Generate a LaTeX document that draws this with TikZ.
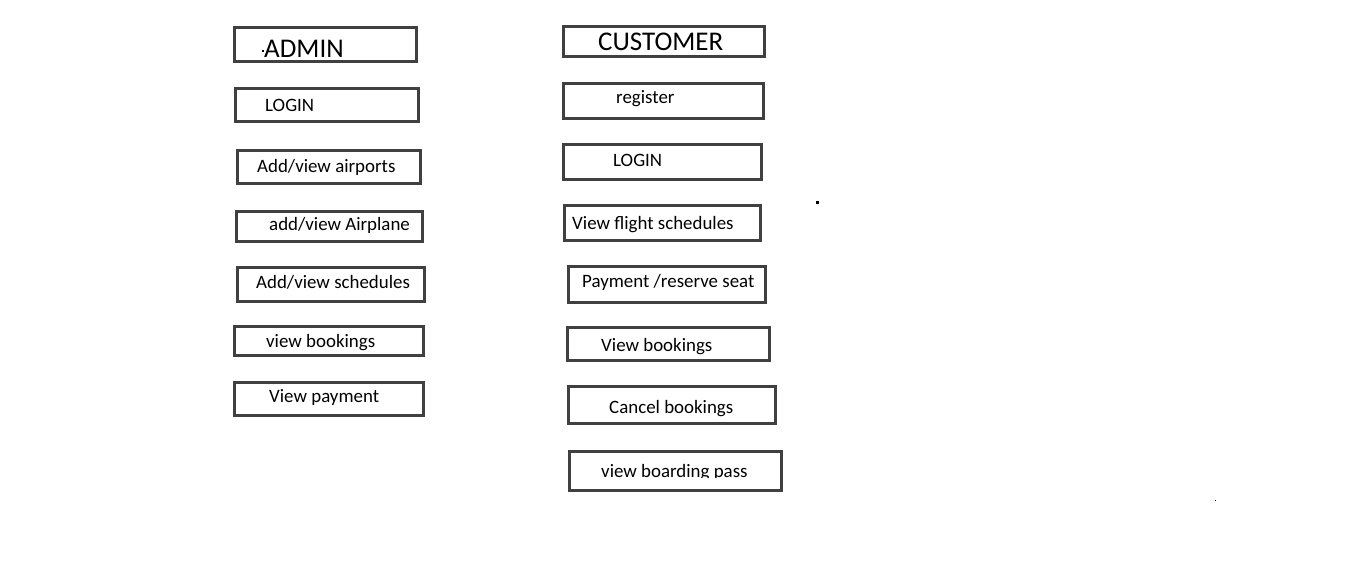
\documentclass[tikz,border=0pt]{standalone}
\usepackage{fontspec}
\setmainfont{Carlito}
\definecolor{boxline}{HTML}{404040}
\newcommand{\lbl}{\fontsize{18.9}{20}\selectfont}
\newcommand{\head}{\fontsize{27}{28}\selectfont}

\begin{document}
\begin{tikzpicture}
                \tikzset{x=1pt, y=-1pt}
                \tikzstyle{box}=[rectangle, draw=boxline, line width=3pt, inner sep=0pt]
                \tikzstyle{txt}=[anchor=base west, inner sep=0pt, font=\lbl]
                \tikzstyle{dot}=[fill=black, inner sep=0pt]

                \useasboundingbox (0,0) rectangle (1360,569);

                % admin side
                \draw (325.5, 44.5) node[box, minimum width=182, minimum height=34] (a0) {};
                \draw (327.0,105.0) node[box, minimum width=183, minimum height=33] (a1) {};
                \draw (329.0,167.0) node[box, minimum width=183, minimum height=33] (a2) {};
                \draw (329.5,226.5) node[box, minimum width=186, minimum height=30] (a3) {};
                \draw (331.0,284.5) node[box, minimum width=187, minimum height=34] (a4) {};
                \draw (329.0,341.0) node[box, minimum width=189, minimum height=29] (a5) {};
                \draw (329.0,399.0) node[box, minimum width=189, minimum height=33] (a6) {};

                \draw (264, 58)     node[txt, font=\head] (la0) {ADMIN};
                \draw (265,112)     node[txt]   (la1)   {LOGIN};
                \draw (257,173)     node[txt]   (la2)   {Add/view airports};
                \draw (269,231)     node[txt]   (la3)   {add/view Airplane};
                \draw (256,289)     node[txt]   (la4)   {Add/view schedules};
                \draw (266,348)     node[txt]   (la5)   {view bookings};
                \draw (269,402)     node[txt]   (la6)   {View payment};

                % customer side
                \draw (664.0, 41.5) node[box, minimum width=201, minimum height=30] (c0) {};
                \draw (663.5,101.0) node[box, minimum width=200, minimum height=35] (c1) {};
                \draw (662.5,162.0) node[box, minimum width=198, minimum height=35] (c2) {};
                \draw (662.5,223.0) node[box, minimum width=196, minimum height=35] (c3) {};
                \draw (667.0,284.5) node[box, minimum width=197, minimum height=36] (c4) {};
                \draw (668.5,344.0) node[box, minimum width=202, minimum height=33] (c5) {};
                \draw (672.0,405.0) node[box, minimum width=207, minimum height=37] (c6) {};
                \draw (675.5,471.0) node[box, minimum width=212, minimum height=39] (c7) {};

                \draw (598, 51)     node[txt, font=\head] (lc0) {CUSTOMER};
                \draw (616,104)     node[txt]   (lc1)   {register};
                \draw (613,167)     node[txt]   (lc2)   {LOGIN};
                \draw (572,230)     node[txt]   (lc3)   {View flight schedules};
                \draw (582,288)     node[txt]   (lc4)   {Payment /reserve seat};
                \draw (601,352)     node[txt]   (lc5)   {View bookings};
                \draw (609,413)     node[txt]   (lc6)   {Cancel bookings};
                \begin{scope}
                    \clip (560,440) rectangle (790,477);
                    \draw (601,477) node[txt]   (lc7)   {view boarding pass};
                \end{scope}

                % stray dots
                \draw (263.0, 51.0) node[dot, minimum size=1.2] (d0) {};
                \draw (817.5,202.5) node[dot, minimum size=3]   (d1) {};
                \draw (1215.5,500.5) node[dot, minimum size=1.5] (d2) {};
\end{tikzpicture}
\end{document}
